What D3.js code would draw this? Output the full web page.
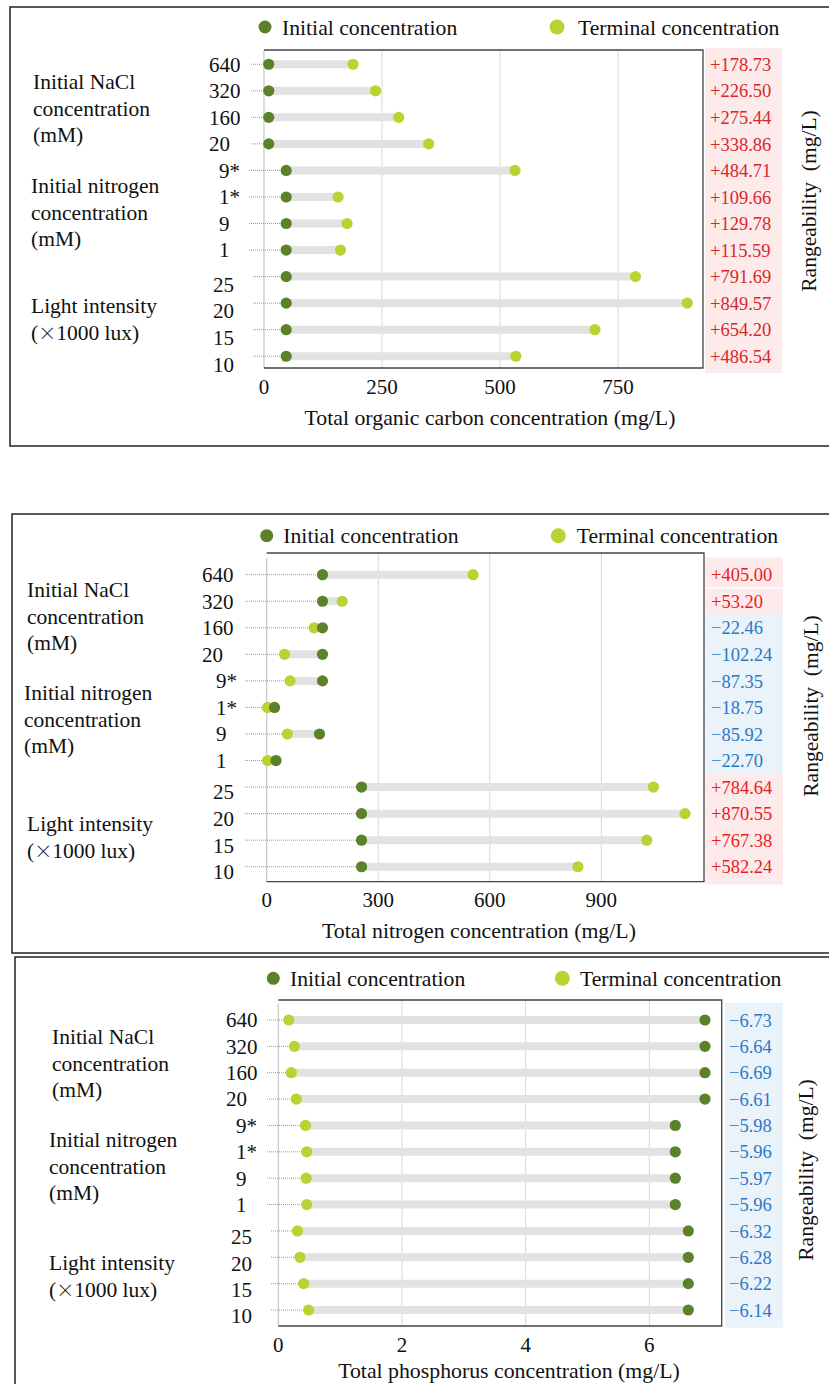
<!DOCTYPE html>
<html>
<head>
<meta charset="utf-8">
<script src="https://cdn.jsdelivr.net/npm/d3@7"></script>
<style>
body { margin: 0; background: #fff; }
svg { display: block; font-family: "Liberation Serif", "Times New Roman", serif; }
</style>
</head>
<body>
<svg width="829" height="1384"></svg>
<script>
// row categories, shared by all three panels (top to bottom)
var rowLabels = ["640", "320", "160", "20", "9*", "1*", "9", "1", "25", "20", "15", "10"];
var rowGroups = ["nacl", "nacl", "nacl", "nacl", "nitrogen", "nitrogen", "nitrogen", "nitrogen", "light", "light", "light", "light"];
var groupTitles = {
  nacl: ["Initial NaCl", "concentration", "(mM)"],
  nitrogen: ["Initial nitrogen", "concentration", "(mM)"],
  light: ["Light intensity", "(\u00D71000 lux)"]
};

// total organic carbon (mg/L)
var tocInitial = [10, 10, 10, 10, 47, 47, 47, 47, 47, 47, 47, 47];
var tocTerminal = [188.7, 236.5, 285.4, 348.9, 531.7, 157, 176, 162, 787, 896.6, 701.2, 533.5];
var tocChange = [178.73, 226.50, 275.44, 338.86, 484.71, 109.66, 129.78, 115.59, 791.69, 849.57, 654.20, 486.54];
var tocTicks = [0, 250, 500, 750];

// total nitrogen (mg/L)
var tnInitial = [150, 150, 150, 150, 150, 21, 142, 25, 255, 255, 255, 255];
var tnTerminal = [555, 203, 127.5, 47.8, 62.7, 2.3, 55.7, 2.3, 1040, 1125, 1022, 837];
var tnChange = [405.00, 53.20, -22.46, -102.24, -87.35, -18.75, -85.92, -22.70, 784.64, 870.55, 767.38, 582.24];
var tnTicks = [0, 300, 600, 900];

// total phosphorus (mg/L)
var tpInitial = [6.90, 6.90, 6.90, 6.90, 6.42, 6.42, 6.42, 6.42, 6.63, 6.63, 6.63, 6.63];
var tpTerminal = [0.17, 0.26, 0.21, 0.29, 0.44, 0.46, 0.45, 0.46, 0.31, 0.35, 0.41, 0.49];
var tpChange = [-6.73, -6.64, -6.69, -6.61, -5.98, -5.96, -5.97, -5.96, -6.32, -6.28, -6.22, -6.14];
var tpTicks = [0, 2, 4, 6];

var darkGreen = "#5b8229",
    lightGreen = "#b9d432",
    barGrey = "#e2e2e2";

var svg = d3.select("svg");
var fmt = d3.format("+.2f");

function drawPanel(p) {
  var g = svg.append("g");

  // outer box (runs off the right edge)
  g.append("rect")
    .attr("x", p.box[0]).attr("y", p.box[1])
    .attr("width", 900).attr("height", p.box[2] - p.box[1])
    .attr("fill", "none").attr("stroke", "#222").attr("stroke-width", 1.5);

  var x = d3.scaleLinear().domain([0, p.max]).range([p.left, p.right]);
  var y = d3.scaleBand().domain(d3.range(rowLabels.length)).range([p.rowTop, p.rowBottom]);
  var cy = function (i) { return y(i) + y.bandwidth() / 2; };

  var rows = rowLabels.map(function (lab, i) {
    return { i: i, label: lab, group: rowGroups[i], a: p.initial[i], b: p.terminal[i], d: p.change[i] };
  });

  // gridlines
  g.selectAll(".grid").data(p.ticks.slice(1)).enter().append("line")
    .attr("x1", function (d) { return x(d); }).attr("x2", function (d) { return x(d); })
    .attr("y1", p.frameTop).attr("y2", p.frameBottom)
    .attr("stroke", "#d8d8d8").attr("stroke-width", 1);
  g.append("line")
    .attr("x1", x(0)).attr("x2", x(0)).attr("y1", p.axisTop).attr("y2", p.frameBottom)
    .attr("stroke", "#c4c4c4").attr("stroke-width", 1.2);

  // frame: top, right, bottom
  g.append("path")
    .attr("d", "M" + x(0) + "," + p.frameTop + "H" + p.right + "V" + p.frameBottom + "H" + x(0))
    .attr("fill", "none").attr("stroke", "#444").attr("stroke-width", 1.3);

  // rangeability column
  var step = y.step();
  g.selectAll(".cell").data(rows).enter().append("rect")
    .attr("x", p.colX[0]).attr("width", p.colX[1] - p.colX[0])
    .attr("y", function (d) { return d.i === 0 ? y(d.i) - p.colPad : y(d.i); })
    .attr("height", function (d) {
      var h = step;
      if (d.i === 0) h += p.colPad;
      if (d.i === rows.length - 1) h += p.colPad;
      return h + 0.5;
    })
    .attr("fill", function (d) { return d.d >= 0 ? "#fdeaea" : "#eaf2fa"; });
  (p.gapAfter || []).forEach(function (i) {
    g.append("line")
      .attr("x1", p.colX[0]).attr("x2", p.colX[1])
      .attr("y1", y(i) + step).attr("y2", y(i) + step)
      .attr("stroke", "#fff").attr("stroke-width", 1.5);
  });
  g.selectAll(".rng").data(rows).enter().append("text")
    .attr("x", p.colText).attr("y", function (d) { return cy(d.i); }).attr("dy", "0.36em")
    .attr("font-size", 18.5)
    .attr("fill", function (d) { return d.d >= 0 ? p.red : "#2a7ac6"; })
    .text(function (d) { return fmt(d.d); });

  // dotted leaders
  g.selectAll(".lead").data(rows).enter().append("line")
    .attr("x1", function (d) { return p.leadX[d.group]; })
    .attr("x2", function (d) { return x(Math.min(d.a, d.b)); })
    .attr("y1", function (d) { return cy(d.i); }).attr("y2", function (d) { return cy(d.i); })
    .attr("stroke", "#9a9a9a").attr("stroke-width", 1).attr("stroke-dasharray", "1,1");

  // bars
  g.selectAll(".bar").data(rows).enter().append("line")
    .attr("x1", function (d) { return x(d.a); }).attr("x2", function (d) { return x(d.b); })
    .attr("y1", function (d) { return cy(d.i); }).attr("y2", function (d) { return cy(d.i); })
    .attr("stroke", barGrey).attr("stroke-width", 8);

  // dots: draw the left one first so the right overlaps it
  rows.forEach(function (d) {
    var pts = [{ v: d.a, c: darkGreen }, { v: d.b, c: lightGreen }];
    pts.sort(function (m, n) { return m.v - n.v; });
    pts.forEach(function (pt) {
      g.append("circle").attr("cx", x(pt.v)).attr("cy", cy(d.i)).attr("r", 5.6).attr("fill", pt.c);
    });
  });

  // row labels
  g.selectAll(".rowlab").data(rows).enter().append("text")
    .attr("x", function (d) { return p.labX[d.group]; })
    .attr("y", function (d) { return cy(d.i) + (d.group === "light" ? p.lightDy : 0); })
    .attr("dy", "0.35em").attr("font-size", 21).attr("fill", "#111")
    .text(function (d) { return d.label; });

  // group titles, one text per line (the multiplication sign is a wide glyph in the original)
  Object.keys(groupTitles).forEach(function (k) {
    groupTitles[k].forEach(function (line, j) {
      var t = g.append("text").attr("font-size", 21.5).attr("fill", "#111")
        .attr("x", p.groupPos[k][0]).attr("y", p.groupPos[k][1] + j * 26.5);
      if (line.indexOf("\u00D7") >= 0) {
        var parts = line.split("\u00D7");
        t.append("tspan").text(parts[0]);
        t.append("tspan").attr("font-family", "'Noto Sans CJK JP', 'Noto Sans CJK SC', sans-serif")
          .attr("font-size", 18).attr("font-weight", 300).text("\u00D7");
        t.append("tspan").text(parts[1]);
      } else {
        t.text(line);
      }
    });
  });

  // x tick labels
  g.selectAll(".tick").data(p.ticks).enter().append("text")
    .attr("x", function (d) { return x(d); }).attr("y", p.tickY).attr("dy", "0.35em")
    .attr("text-anchor", "middle").attr("font-size", 21).attr("fill", "#111")
    .text(function (d) { return d; });

  g.append("text")
    .attr("x", p.titleX).attr("y", p.titleY).attr("dy", "0.35em")
    .attr("text-anchor", "middle").attr("font-size", 21.8).attr("fill", "#111")
    .text(p.title);

  g.append("text")
    .attr("transform", "translate(" + p.rngLabel[0] + "," + p.rngLabel[1] + ") rotate(-90)")
    .attr("text-anchor", "middle").attr("dy", "0.35em").attr("font-size", 21.5).attr("fill", "#111")
    .attr("xml:space", "preserve")
    .text("Rangeability  (mg/L)");

  // legend
  var lg = g.append("g");
  lg.append("circle").attr("cx", p.legend[0]).attr("cy", p.legendY).attr("r", 6.5).attr("fill", darkGreen);
  lg.append("text").attr("x", p.legend[1]).attr("y", p.legendY).attr("dy", "0.35em")
    .attr("font-size", 21.7).attr("fill", "#111").text("Initial concentration");
  lg.append("circle").attr("cx", p.legend[2]).attr("cy", p.legendY).attr("r", 7.5).attr("fill", lightGreen);
  lg.append("text").attr("x", p.legend[3]).attr("y", p.legendY).attr("dy", "0.35em")
    .attr("font-size", 21.7).attr("fill", "#111").text("Terminal concentration");
}

drawPanel({
  initial: tocInitial, terminal: tocTerminal, change: tocChange, ticks: tocTicks, max: 930,
  title: "Total organic carbon concentration (mg/L)",
  box: [10, 7, 446],
  left: 264, right: 703, frameTop: 50, axisTop: 50, frameBottom: 368,
  rowTop: 51, rowBottom: 369.5,
  colX: [705, 782], colPad: 3, colText: 710, red: "#d8282c",
  leadX: { nacl: 251, nitrogen: 249, light: 253 },
  labX: { nacl: 209, nitrogen: 219, light: 213 }, lightDy: 8,
  groupPos: { nacl: [33, 89], nitrogen: [31, 193], light: [31, 313] },
  tickY: 387, titleX: 490, titleY: 417, rngLabel: [808, 201],
  legendY: 27, legend: [265, 282, 557, 578]
});

drawPanel({
  initial: tnInitial, terminal: tnTerminal, change: tnChange, ticks: tnTicks, max: 1176,
  title: "Total nitrogen concentration (mg/L)",
  box: [12, 514, 953],
  left: 266.7, right: 704, frameTop: 553, axisTop: 558, frameBottom: 881.7,
  rowTop: 561.4, rowBottom: 880,
  colX: [705, 783], colPad: 4, colText: 711, red: "#ec1c24", gapAfter: [0],
  leadX: { nacl: 245, nitrogen: 245, light: 245 },
  labX: { nacl: 202, nitrogen: 216, light: 213 }, lightDy: 5,
  groupPos: { nacl: [27, 597], nitrogen: [24, 700], light: [27, 831] },
  tickY: 900, titleX: 479, titleY: 930, rngLabel: [810, 706],
  legendY: 535.7, legend: [266.7, 283.3, 558.3, 576.7]
});

drawPanel({
  initial: tpInitial, terminal: tpTerminal, change: tpChange, ticks: tpTicks, max: 7.17,
  title: "Total phosphorus concentration (mg/L)",
  box: [15, 957, 1400],
  left: 278.3, right: 721.7, frameTop: 1000, axisTop: 1004, frameBottom: 1326,
  rowTop: 1006.8, rowBottom: 1323.2,
  colX: [725, 783], colPad: 4, colText: 729, red: "#ec1c24",
  leadX: { nacl: 267, nitrogen: 267, light: 271 },
  labX: { nacl: 226, nitrogen: 236, light: 231 }, lightDy: 6,
  groupPos: { nacl: [52, 1044], nitrogen: [49, 1147], light: [49, 1270] },
  tickY: 1345, titleX: 509, titleY: 1370, rngLabel: [805, 1170],
  legendY: 978.3, legend: [273.3, 290, 562.3, 580]
});
</script>
</body>
</html>
